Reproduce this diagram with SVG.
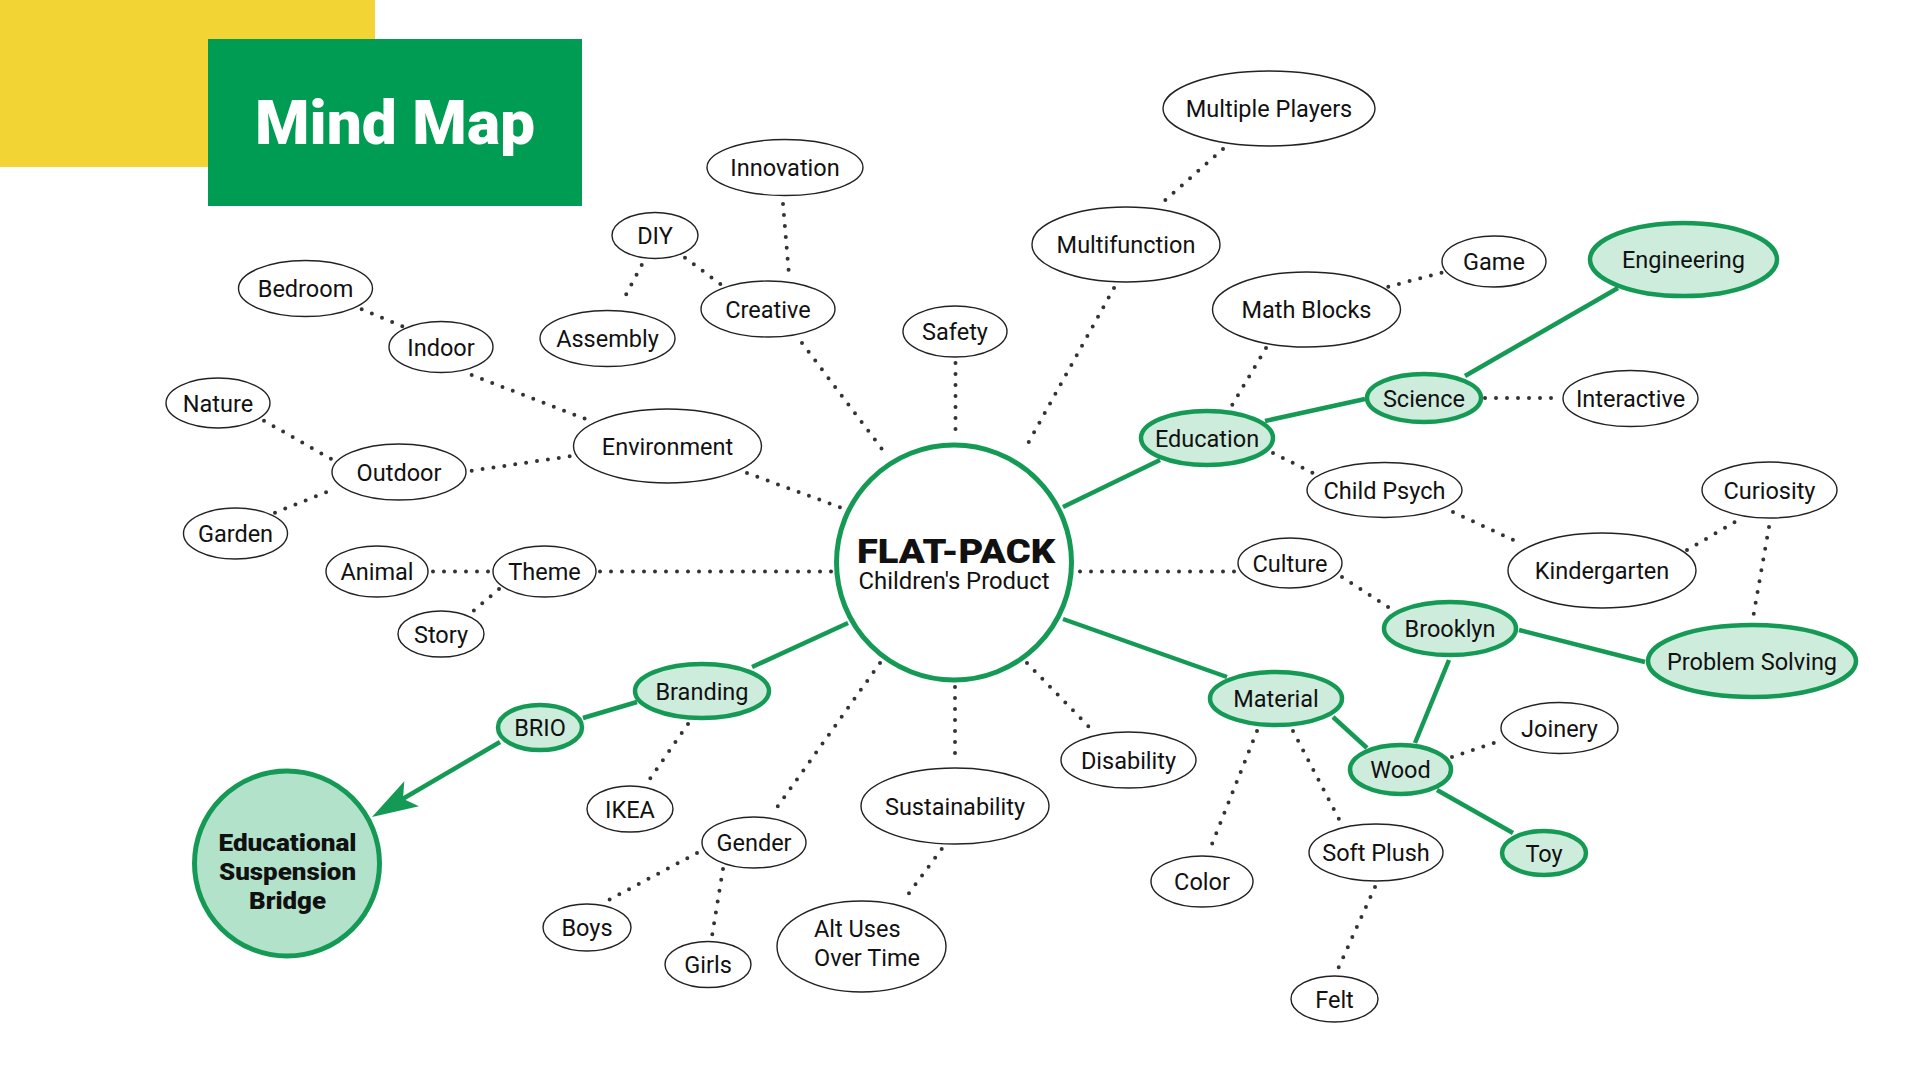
<svg xmlns="http://www.w3.org/2000/svg" width="1920" height="1080" viewBox="0 0 1920 1080">
<style>
.n ellipse{fill:#fff;stroke:#222;stroke-width:1.4}
.g ellipse{fill:#cdecdc;stroke:#159a55;stroke-width:4.5}
text{font-family:Roboto,"Liberation Sans",sans-serif;fill:#111}
.l{font-size:23.5px;text-anchor:middle}
.b{font-size:24px;font-weight:900;text-anchor:middle}
.dot{fill:none;stroke:#333;stroke-width:4;stroke-linecap:round;stroke-dasharray:0 11}
.gl{fill:none;stroke:#159a55;stroke-width:4.5}
</style>
<defs>
<marker id="arr" markerUnits="userSpaceOnUse" orient="auto" refX="0" refY="0" markerWidth="60" markerHeight="40" overflow="visible">
<path d="M36,0 L-10,-14.5 L0,0 L-10,14.5 Z" fill="#159a55"/>
</marker>
</defs>
<rect width="1920" height="1080" fill="#fff"/>
<g id="header">
<rect x="0" y="0" width="375" height="167" fill="#f2d535"/>
<rect x="208" y="39" width="374" height="167" fill="#009c53"/>
<text x="395" y="144" textLength="280" lengthAdjust="spacingAndGlyphs" style="font-size:62px;font-weight:900;fill:#fff;text-anchor:middle">Mind Map</text>
</g>
<g id="connectors">
<path class="dot" d="M361.7,309.3 L403.3,326.7"/>
<path class="dot" d="M471.7,375 L590,420.7"/>
<path class="dot" d="M264,420.7 L331.7,459.3"/>
<path class="dot" d="M275,512.7 L336,488.3"/>
<path class="dot" d="M471.7,470.7 L571.7,456"/>
<path class="dot" d="M433,571.5 L490,571.5"/>
<path class="dot" d="M499,589 L472,612"/>
<path class="dot" d="M600,571.5 L832,571.5"/>
<path class="dot" d="M747,473 L842,508"/>
<path class="dot" d="M641.7,265 L621.7,302.7"/>
<path class="dot" d="M685,257.7 L720.7,284.3"/>
<path class="dot" d="M783,204 L789,275"/>
<path class="dot" d="M802,343 L888,457"/>
<path class="dot" d="M955.5,363 L955.5,440"/>
<path class="dot" d="M1223,149 L1162,203"/>
<path class="dot" d="M1114,288 L1026,447"/>
<path class="dot" d="M1388.3,286.7 L1441.7,272.7"/>
<path class="dot" d="M1266,348 L1231,407"/>
<path class="dot" d="M1485,398 L1555,398"/>
<path class="dot" d="M1273,453 L1313,473"/>
<path class="dot" d="M1453,512 L1522,544"/>
<path class="dot" d="M1687,550 L1735,522"/>
<path class="dot" d="M1769,527 L1753,618"/>
<path class="dot" d="M1080,571.5 L1236,571.5"/>
<path class="dot" d="M1342,577 L1391,609"/>
<path class="dot" d="M1257,731 L1210,849"/>
<path class="dot" d="M1293,731 L1341,823"/>
<path class="dot" d="M1375,887 L1337,971"/>
<path class="dot" d="M1452,757 L1503,740"/>
<path class="dot" d="M1027,663 L1093,731"/>
<path class="dot" d="M955,687 L955,763"/>
<path class="dot" d="M941.7,849 L902.7,901.7"/>
<path class="dot" d="M880,663 L773,813"/>
<path class="dot" d="M697,853 L605,902"/>
<path class="dot" d="M723,869 L712,936"/>
<path class="dot" d="M688,724 L647,783"/>
<path class="gl" d="M1063,507 L1160,460"/>
<path class="gl" d="M1265,421 L1365,399"/>
<path class="gl" d="M1465,376 L1618,288"/>
<path class="gl" d="M1063,619 L1227,677"/>
<path class="gl" d="M1333,717 L1367,748"/>
<path class="gl" d="M1415,743 L1449,660"/>
<path class="gl" d="M1519,630 L1645,662"/>
<path class="gl" d="M1437,790 L1513,833"/>
<path class="gl" d="M848,623 L752,667"/>
<path class="gl" d="M637,702 L583,718"/>
<path class="gl" d="M500,742 L403,798.8" marker-end="url(#arr)"/>
</g>
<g id="center">
<circle cx="954" cy="562.5" r="117.5" fill="#fff" stroke="#159a55" stroke-width="5"/>
<text x="956" y="563" textLength="198" lengthAdjust="spacingAndGlyphs" style="font-size:34px;font-weight:900;text-anchor:middle">FLAT-PACK</text>
<text x="954" y="589" textLength="191" lengthAdjust="spacingAndGlyphs" style="font-size:23px;text-anchor:middle">Children's Product</text>
</g>
<g id="bridge">
<circle cx="287" cy="863.5" r="92.5" fill="#b3e2cb" stroke="#159a55" stroke-width="5"/>
<text class="b" x="287.5" y="851" textLength="138" lengthAdjust="spacingAndGlyphs">Educational</text>
<text class="b" x="287.5" y="880" textLength="137" lengthAdjust="spacingAndGlyphs">Suspension</text>
<text class="b" x="287.5" y="908.5" textLength="77" lengthAdjust="spacingAndGlyphs">Bridge</text>
</g>
<g id="bedroom" class="n"><ellipse cx="305.5" cy="288.5" rx="67" ry="28"/><text class="l" x="305.5" y="297">Bedroom</text></g>
<g id="indoor" class="n"><ellipse cx="441" cy="347" rx="52" ry="25.5"/><text class="l" x="441" y="355.5">Indoor</text></g>
<g id="nature" class="n"><ellipse cx="218" cy="403" rx="52" ry="25"/><text class="l" x="218" y="411.5">Nature</text></g>
<g id="outdoor" class="n"><ellipse cx="399" cy="472" rx="67" ry="28"/><text class="l" x="399" y="480.5">Outdoor</text></g>
<g id="garden" class="n"><ellipse cx="235.5" cy="533.5" rx="52" ry="25.5"/><text class="l" x="235.5" y="542">Garden</text></g>
<g id="environment" class="n"><ellipse cx="667.5" cy="446" rx="94" ry="37"/><text class="l" x="667.5" y="454.5">Environment</text></g>
<g id="animal" class="n"><ellipse cx="377" cy="571.5" rx="51" ry="25.5"/><text class="l" x="377" y="580">Animal</text></g>
<g id="theme" class="n"><ellipse cx="544.5" cy="571.5" rx="51.5" ry="25.5"/><text class="l" x="544.5" y="580">Theme</text></g>
<g id="story" class="n"><ellipse cx="441" cy="634" rx="43" ry="23"/><text class="l" x="441" y="642.5">Story</text></g>
<g id="assembly" class="n"><ellipse cx="607.5" cy="338.5" rx="67.5" ry="28"/><text class="l" x="607.5" y="347">Assembly</text></g>
<g id="diy" class="n"><ellipse cx="655" cy="235.5" rx="43" ry="23"/><text class="l" x="655" y="244">DIY</text></g>
<g id="creative" class="n"><ellipse cx="768" cy="309" rx="67" ry="28"/><text class="l" x="768" y="317.5">Creative</text></g>
<g id="innovation" class="n"><ellipse cx="785" cy="167.5" rx="78" ry="28"/><text class="l" x="785" y="176">Innovation</text></g>
<g id="safety" class="n"><ellipse cx="955" cy="331.5" rx="52" ry="25.5"/><text class="l" x="955" y="340">Safety</text></g>
<g id="multifunction" class="n"><ellipse cx="1126" cy="244.5" rx="94" ry="37.5"/><text class="l" x="1126" y="253">Multifunction</text></g>
<g id="multiple-players" class="n"><ellipse cx="1269" cy="108.5" rx="106" ry="37.5"/><text class="l" x="1269" y="117">Multiple Players</text></g>
<g id="math-blocks" class="n"><ellipse cx="1306.5" cy="309.5" rx="94" ry="37.5"/><text class="l" x="1306.5" y="318">Math Blocks</text></g>
<g id="game" class="n"><ellipse cx="1494" cy="261.5" rx="52" ry="25.5"/><text class="l" x="1494" y="270">Game</text></g>
<g id="interactive" class="n"><ellipse cx="1630.5" cy="398.5" rx="67.5" ry="28"/><text class="l" x="1630.5" y="407">Interactive</text></g>
<g id="child-psych" class="n"><ellipse cx="1384.5" cy="490" rx="77.5" ry="27.5"/><text class="l" x="1384.5" y="498.5">Child Psych</text></g>
<g id="curiosity" class="n"><ellipse cx="1769.5" cy="490" rx="67.5" ry="28"/><text class="l" x="1769.5" y="498.5">Curiosity</text></g>
<g id="kindergarten" class="n"><ellipse cx="1602" cy="570.5" rx="94" ry="37.5"/><text class="l" x="1602" y="579">Kindergarten</text></g>
<g id="culture" class="n"><ellipse cx="1290" cy="563" rx="52" ry="25"/><text class="l" x="1290" y="571.5">Culture</text></g>
<g id="disability" class="n"><ellipse cx="1128.5" cy="760" rx="67.5" ry="28"/><text class="l" x="1128.5" y="768.5">Disability</text></g>
<g id="sustainability" class="n"><ellipse cx="955" cy="806" rx="94" ry="38"/><text class="l" x="955" y="814.5">Sustainability</text></g>
<g id="alt-uses" class="n"><ellipse cx="861.5" cy="946.5" rx="84.5" ry="45.5"/><text class="l" x="814" y="937" style="text-anchor:start">Alt Uses</text><text class="l" x="814" y="966" style="text-anchor:start">Over Time</text></g>
<g id="joinery" class="n"><ellipse cx="1559.5" cy="728" rx="58.5" ry="25.5"/><text class="l" x="1559.5" y="736.5">Joinery</text></g>
<g id="soft-plush" class="n"><ellipse cx="1376" cy="852.5" rx="67" ry="28.5"/><text class="l" x="1376" y="861">Soft Plush</text></g>
<g id="color" class="n"><ellipse cx="1202" cy="881.5" rx="51" ry="25.5"/><text class="l" x="1202" y="890">Color</text></g>
<g id="felt" class="n"><ellipse cx="1334.5" cy="999" rx="43.5" ry="23"/><text class="l" x="1334.5" y="1007.5">Felt</text></g>
<g id="ikea" class="n"><ellipse cx="630" cy="809" rx="43" ry="23"/><text class="l" x="630" y="817.5">IKEA</text></g>
<g id="gender" class="n"><ellipse cx="754" cy="842.5" rx="52" ry="25.5"/><text class="l" x="754" y="851">Gender</text></g>
<g id="boys" class="n"><ellipse cx="587" cy="927.5" rx="44" ry="23.5"/><text class="l" x="587" y="936">Boys</text></g>
<g id="girls" class="n"><ellipse cx="708" cy="964.5" rx="43" ry="23"/><text class="l" x="708" y="973">Girls</text></g>
<g id="education" class="g"><ellipse cx="1207" cy="438" rx="66" ry="27"/><text class="l" x="1207" y="446.5">Education</text></g>
<g id="science" class="g"><ellipse cx="1424" cy="398" rx="57" ry="24"/><text class="l" x="1424" y="406.5">Science</text></g>
<g id="engineering" class="g"><ellipse cx="1683.5" cy="259.5" rx="93.5" ry="36.5"/><text class="l" x="1683.5" y="268">Engineering</text></g>
<g id="brooklyn" class="g"><ellipse cx="1450" cy="628.5" rx="66" ry="26.5"/><text class="l" x="1450" y="637">Brooklyn</text></g>
<g id="problem-solving" class="g"><ellipse cx="1752" cy="661" rx="104" ry="36"/><text class="l" x="1752" y="669.5">Problem Solving</text></g>
<g id="material" class="g"><ellipse cx="1276" cy="698.5" rx="66" ry="26.5"/><text class="l" x="1276" y="707">Material</text></g>
<g id="wood" class="g"><ellipse cx="1400.5" cy="769.5" rx="50.5" ry="24.5"/><text class="l" x="1400.5" y="778">Wood</text></g>
<g id="toy" class="g"><ellipse cx="1544" cy="853" rx="42" ry="22"/><text class="l" x="1544" y="861.5">Toy</text></g>
<g id="branding" class="g"><ellipse cx="702" cy="691" rx="67" ry="27"/><text class="l" x="702" y="699.5">Branding</text></g>
<g id="brio" class="g"><ellipse cx="540" cy="727.5" rx="42" ry="22.5"/><text class="l" x="540" y="736">BRIO</text></g>
</svg>
